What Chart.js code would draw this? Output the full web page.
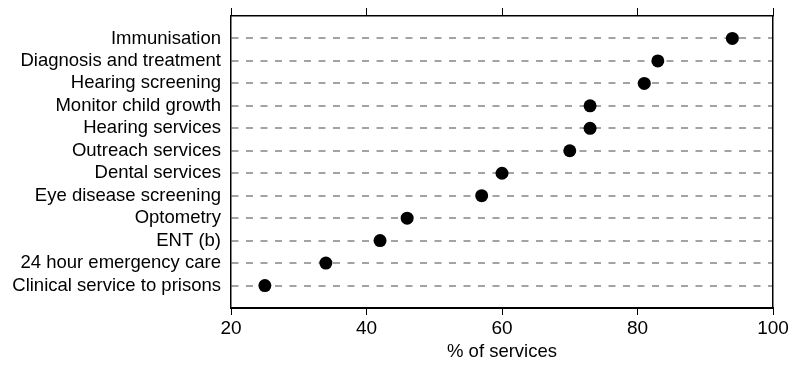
<!DOCTYPE html>
<html>
<head>
<meta charset="utf-8">
<script src="https://cdn.jsdelivr.net/npm/chart.js@4.4.0/dist/chart.umd.min.js"></script>
<style>
html,body{margin:0;padding:0;background:#fff;}
canvas{display:block;}
</style>
</head>
<body>
<canvas id="c" width="794" height="365"></canvas>
<script>
const categories = [
  "Immunisation",
  "Diagnosis and treatment",
  "Hearing screening",
  "Monitor child growth",
  "Hearing services",
  "Outreach services",
  "Dental services",
  "Eye disease screening",
  "Optometry",
  "ENT (b)",
  "24 hour emergency care",
  "Clinical service to prisons"
];
const percentOfServices = [94, 83, 81, 73, 73, 70, 60, 57, 46, 42, 34, 25];
const xTicks = [20, 40, 60, 80, 100];
const xTitle = "% of services";

const FONT = "'Liberation Sans', Arial, sans-serif";
const points = categories.map((c, i) => ({ x: percentOfServices[i], y: i }));

new Chart(document.getElementById('c'), {
  type: 'scatter',
  data: {
    datasets: [{
      data: points,
      backgroundColor: '#000',
      borderWidth: 0,
      pointRadius: 6.5,
      pointHoverRadius: 6.5
    }]
  },
  options: {
    responsive: false,
    animation: false,
    events: [],
    layout: { padding: { top: 8, right: 21, left: 0, bottom: 0 } },
    plugins: { legend: { display: false }, tooltip: { enabled: false } },
    scales: {
      x: {
        type: 'linear', position: 'bottom', min: 20, max: 100,
        afterBuildTicks: s => { s.ticks = xTicks.map(v => ({ value: v })); },
        afterFit: s => { s.height = 57; s.paddingLeft = 0; s.paddingRight = 0; },
        grid: { display: true, drawOnChartArea: false, drawTicks: true, tickLength: 7, color: '#000', lineWidth: 1 },
        border: { display: true, color: '#000', width: 2 },
        ticks: { color: '#000', padding: 2, font: { family: FONT, size: 19 }, maxRotation: 0 },
        title: { display: true, text: xTitle, color: '#000', font: { family: FONT, size: 18.5 }, padding: { top: 0, bottom: 2 } }
      },
      x2: {
        type: 'linear', position: 'top', min: 20, max: 100,
        afterBuildTicks: s => { s.ticks = xTicks.map(v => ({ value: v })); },
        afterFit: s => { s.height = 8; s.paddingLeft = 0; s.paddingRight = 0; },
        grid: { display: true, drawOnChartArea: false, drawTicks: true, tickLength: 8, color: '#000', lineWidth: 1 },
        border: { display: true, color: '#000', width: 1.5 },
        ticks: { display: false }
      },
      y: {
        type: 'linear', position: 'left', min: -1, max: 12, reverse: true,
        afterBuildTicks: s => { s.ticks = categories.map((c, i) => ({ value: i })); },
        afterFit: s => { s.width = 231; s.paddingTop = 0; s.paddingBottom = 0; },
        grid: { display: true, drawOnChartArea: true, drawTicks: false, color: '#a3a3a3', lineWidth: 2 },
        border: { display: true, color: '#000', width: 1.5, dash: [7, 7.5] },
        ticks: { color: '#000', padding: 10, font: { family: FONT, size: 18.5 }, callback: v => categories[v] }
      },
      y2: {
        type: 'linear', position: 'right', min: -1, max: 12,
        afterFit: s => { s.width = 0; s.paddingTop = 0; s.paddingBottom = 0; },
        grid: { display: false },
        border: { display: true, color: '#000', width: 1.5 },
        ticks: { display: false }
      }
    }
  }
});
</script>
</body>
</html>
